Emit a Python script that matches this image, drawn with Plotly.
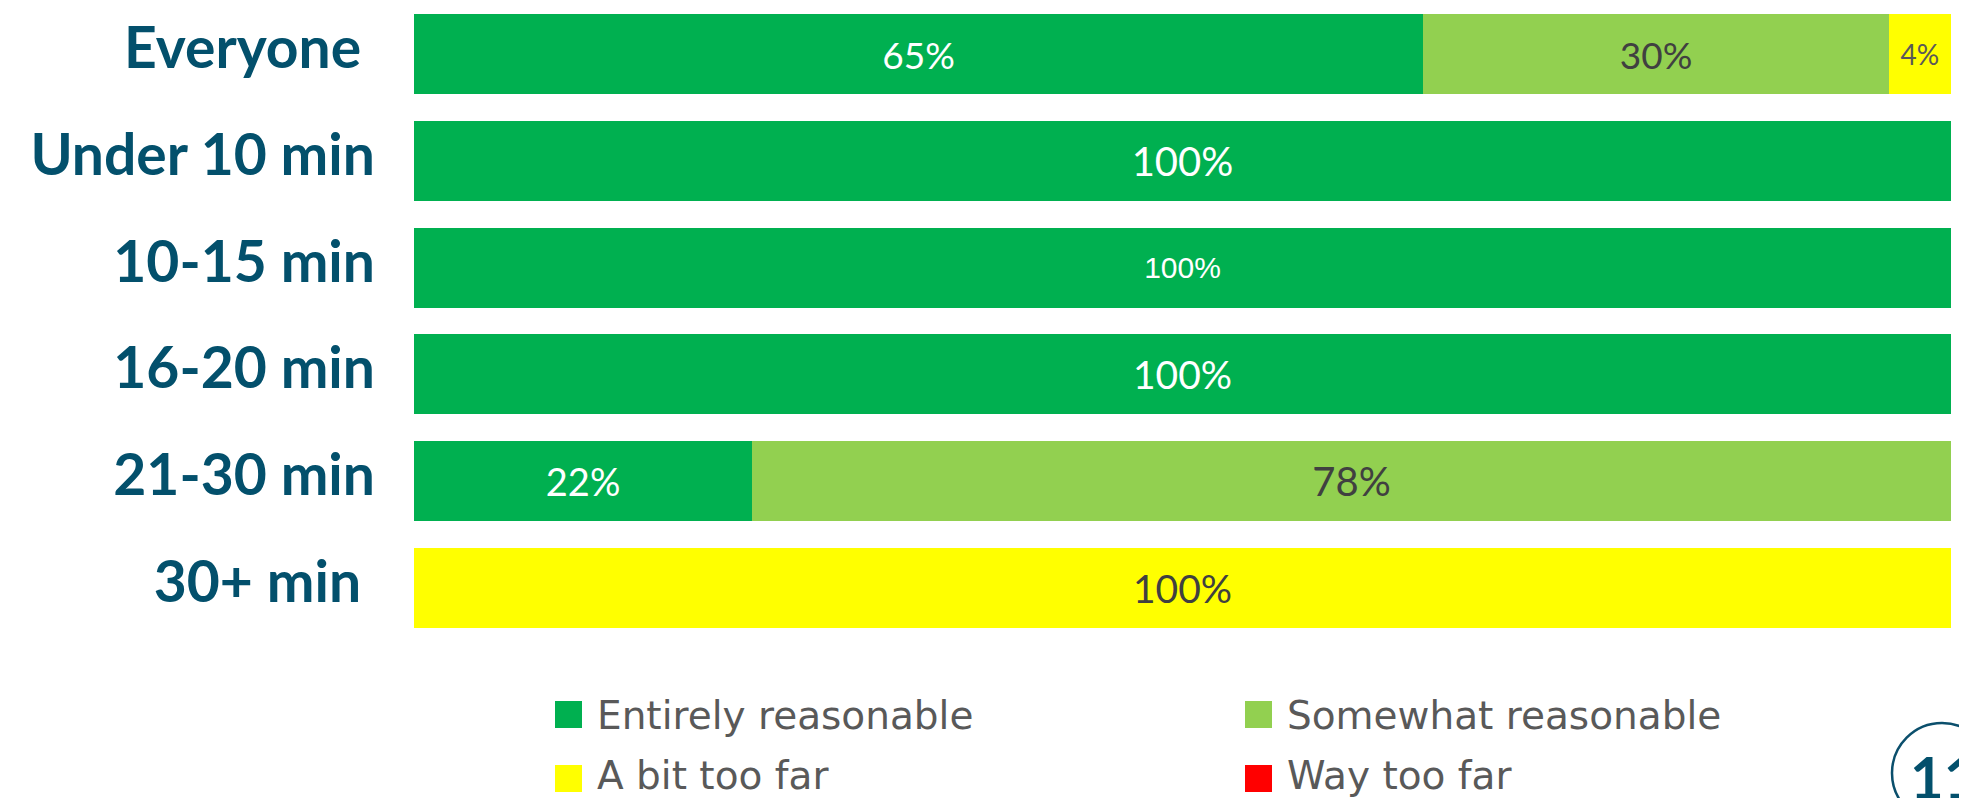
import plotly.graph_objects as go

# data
groups = ["Everyone", "Under 10 min", "10-15 min", "16-20 min", "21-30 min", "30+ min"]
series = ["Entirely reasonable", "Somewhat reasonable", "A bit too far", "Way too far"]
entirely = [65, 100, 100, 100, 22, 0]
somewhat = [30, 0, 0, 0, 78, 0]
bit_far = [4, 0, 0, 0, 0, 100]
way_far = [0, 0, 0, 0, 0, 0]
page_no = "11"

colors = ["#00B050", "#92D050", "#FFFF00", "#FF0000"]
label_col = "#03506C"

# per-row label styling (the slide mixes fonts/sizes a bit)
txt_size = {
    0: [37, 40, 30, 39, 38, 39],
    1: [37, 40, 40, 40, 40, 40],
    2: [28, 40, 40, 40, 40, 39],
    3: [30] * 6,
}
txt_color = {
    0: ["white"] * 6,
    1: ["#404040"] * 6,
    2: ["#595959", "#404040", "#404040", "#404040", "#404040", "#404040"],
    3: ["white"] * 6,
}
txt_family = ["Lato", "Lato", "Liberation Sans, Arial", "Lato", "Lato", "Lato"]

# page is rendered with the default 8px body margin -> work in page pixels, shift back
OFF = 8
W, H = 1967 - OFF, 798 - OFF
ML, MR, MT, MB = 414 - OFF, 16, 0, 157
PW, PH = W - ML - MR, H - MT - MB


def px_x(px):
    return (px - OFF - ML) / PW


def px_y(py):
    return 1 - (py - OFF - MT) / PH


# category slots: first bar centred at page y=54, pitch 106.8 px
pitch, first_c = 106.8, 54
y_top = (OFF + MT - first_c) / pitch
y_bot = (OFF + MT + PH - first_c) / pitch

fig = go.Figure()
for i, (name, vals) in enumerate(zip(series, (entirely, somewhat, bit_far, way_far))):
    fig.add_trace(go.Bar(
        y=list(range(len(groups))), x=vals, name=name, orientation="h",
        marker=dict(color=colors[i], line=dict(width=0)),
        text=[f"{v}%" if v else "" for v in vals],
        textposition="inside", insidetextanchor="middle", textangle=0,
        textfont=dict(size=txt_size[i], color=txt_color[i], family=txt_family),
        showlegend=False, hoverinfo="skip",
    ))

# legend drawn by hand: bigger swatches than plotly's, 2x2 grid
leg_x = [555, 1245]
leg_y = [715, 779]        # swatch centres
leg_ty = [715, 775]       # text centres
for i, name in enumerate(series):
    cx, cy, ty = leg_x[i % 2], leg_y[i // 2], leg_ty[i // 2]
    fig.add_shape(type="rect", xref="paper", yref="paper",
                  x0=px_x(cx), x1=px_x(cx + 27), y0=px_y(cy + 13), y1=px_y(cy - 14),
                  fillcolor=colors[i], line=dict(width=0))
    fig.add_annotation(x=px_x(cx + 40), y=px_y(ty), xref="paper", yref="paper",
                       text=name, showarrow=False, xanchor="left", yanchor="middle",
                       font=dict(family="DejaVu Sans", size=39, color="#595959"))

# slide number badge, cut by the page edge
fig.add_shape(type="circle", xref="paper", yref="paper",
              x0=px_x(1892), x1=px_x(1992), y0=px_y(823), y1=px_y(723),
              line=dict(color="#0B4F6C", width=2.5))
fig.add_annotation(x=px_x(1943), y=px_y(776), xref="paper", yref="paper", text=page_no,
                   showarrow=False, xanchor="center", yanchor="middle",
                   font=dict(family="Lato", size=58, color=label_col, weight="bold"))

fig.update_layout(
    barmode="stack", barnorm="percent", bargap=0.25,
    width=W, height=H, margin=dict(l=ML, r=MR, t=MT, b=MB),
    plot_bgcolor="white", paper_bgcolor="white",
)
fig.update_xaxes(range=[0, 100], visible=False, fixedrange=True)
pads = {"Everyone": "\u00a0", "30+ min": "\u00a0"}
fig.update_yaxes(
    range=[y_bot, y_top],
    tickvals=list(range(len(groups))), ticktext=[g + pads.get(g, "") for g in groups],
    showgrid=False, showline=False, zeroline=False, ticks="", ticklabelstandoff=38,
    ticklabelshift=6,
    tickfont=dict(family="Lato", size=57, color=label_col, weight="bold"),
)

fig.write_html("out.html")
